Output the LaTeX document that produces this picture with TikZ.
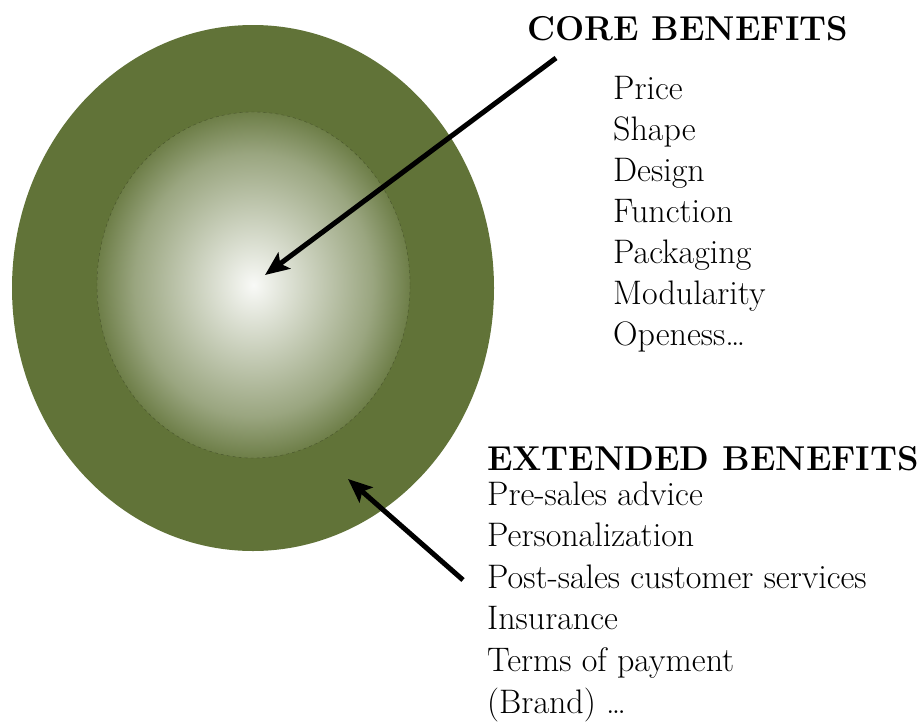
\documentclass[tikz,border=0pt]{standalone}
\usetikzlibrary{shapes.geometric,arrows.meta}
\definecolor{olive}{RGB}{97,115,56}
\pgfdeclareradialshading{coreshade}{\pgfpoint{0bp}{0bp}}{%
  color(0bp)=(white!96!olive);
  color(5bp)=(white!80!olive);
  color(12bp)=(white!58!olive);
  color(19bp)=(white!36!olive);
  color(25bp)=(white!8!olive);
  color(50bp)=(white!8!olive)}
\tikzset{
  bodytext/.style={anchor=base west, inner sep=0pt, font=\fontsize{34}{41}\selectfont},
  headtext/.style={anchor=base west, inner sep=0pt, font=\fontsize{34.5}{41}\selectfont\bfseries},
  pointer/.style={line width=5pt, -{Stealth[length=24pt,width=20pt,inset=5pt]}}
}
\begin{document}
\begin{tikzpicture}[x=1pt,y=-1pt]
\useasboundingbox (0,0) rectangle (921,728);
\node[ellipse, fill=olive, inner sep=0pt, minimum width=482pt, minimum height=526pt] (outer) at (253,288) {};
\node[ellipse, shading=coreshade, draw=black!60!olive, dashed, line width=0.4pt, draw opacity=0.5,
      inner sep=0pt, minimum width=313pt, minimum height=346pt] (inner) at (253.5,285) {};
\coordinate (coretip) at (265,275);
\coordinate (extip) at (348,479);
\coordinate (corestart) at (556,58);
\coordinate (exstart) at (463,580);

\node[headtext] (corehead) at (527,40) {CORE BENEFITS};
\foreach \t [count=\i from 0] in {Price,Shape,Design,Function,Packaging,Modularity,Openess\dots}
  \node[bodytext] (core\i) at (613,99+41*\i) {\t};

\node[headtext] (exthead) at (487,470) {EXTENDED BENEFITS};
\foreach \t [count=\i from 0] in {Pre-sales advice,Personalization,Post-sales customer services,Insurance,Terms of payment,(Brand) \dots}
  \node[bodytext] (ext\i) at (487,505+41.6*\i) {\t};

\draw[pointer] (corestart) -- (coretip);
\draw[pointer] (exstart) -- (extip);
\end{tikzpicture}
\end{document}
